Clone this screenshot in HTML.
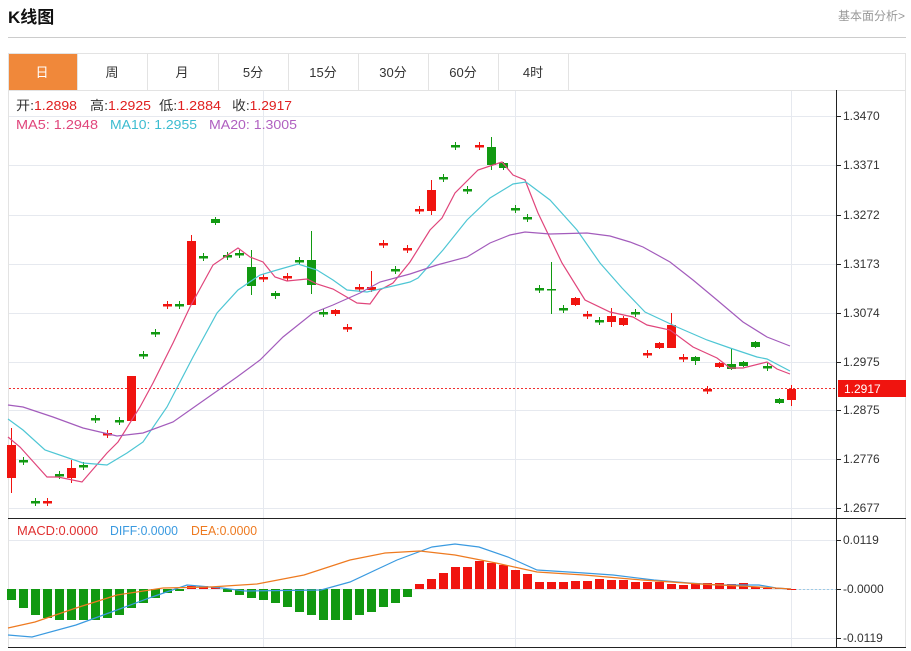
<!DOCTYPE html>
<html><head><meta charset="utf-8"><style>
body{margin:0;width:911px;height:651px;background:#fff;overflow:hidden;font-family:"Liberation Sans","Noto Sans CJK SC",sans-serif;}
svg{position:absolute;left:0;top:0}
</style></head><body>
<svg id="s" width="911" height="651" xmlns="http://www.w3.org/2000/svg" font-family="Liberation Sans, Noto Sans CJK SC, sans-serif">
<text x="8" y="23" font-size="17" font-weight="bold" fill="#111">K线图</text>
<text x="905" y="20" font-size="12" fill="#999" text-anchor="end">基本面分析&gt;</text>
<line x1="8" y1="37.5" x2="906" y2="37.5" stroke="#ccc"/>
<rect x="8.5" y="53.5" width="897" height="594" fill="none" stroke="#e3e3e3"/>
<line x1="8" y1="90.5" x2="906" y2="90.5" stroke="#e3e3e3"/>
<rect x="9" y="54" width="68" height="36" fill="#f0883a"/>
<g stroke="#e3e3e3"><line x1="77.5" y1="54" x2="77.5" y2="90"/><line x1="147.5" y1="54" x2="147.5" y2="90"/><line x1="218.5" y1="54" x2="218.5" y2="90"/><line x1="288.5" y1="54" x2="288.5" y2="90"/><line x1="358.5" y1="54" x2="358.5" y2="90"/><line x1="428.5" y1="54" x2="428.5" y2="90"/><line x1="498.5" y1="54" x2="498.5" y2="90"/><line x1="568.5" y1="54" x2="568.5" y2="90"/></g>
<g font-size="13" text-anchor="middle" fill="#333"><text x="42" y="77" fill="#fff">日</text><text x="112" y="77">周</text><text x="182" y="77">月</text><text x="253" y="77">5分</text><text x="323" y="77">15分</text><text x="393" y="77">30分</text><text x="463" y="77">60分</text><text x="533" y="77">4时</text></g>
<g id="grid" stroke="#e6e9ef"></g>
<g font-size="13" lengthAdjust="spacingAndGlyphs">
<text x="16" y="110" textLength="61" lengthAdjust="spacingAndGlyphs" fill="#333">开:<tspan fill="#e02020">1.2898</tspan></text>
<text x="90" y="110" textLength="61" lengthAdjust="spacingAndGlyphs" fill="#333">高:<tspan fill="#e02020">1.2925</tspan></text>
<text x="159" y="110" textLength="62" lengthAdjust="spacingAndGlyphs" fill="#333">低:<tspan fill="#e02020">1.2884</tspan></text>
<text x="232" y="110" textLength="60" lengthAdjust="spacingAndGlyphs" fill="#333">收:<tspan fill="#e02020">1.2917</tspan></text>
<text x="16" y="129" textLength="82" lengthAdjust="spacingAndGlyphs" fill="#e0457b">MA5: 1.2948</text>
<text x="110" y="129" textLength="87" lengthAdjust="spacingAndGlyphs" fill="#3cbcd0">MA10: 1.2955</text>
<text x="209" y="129" textLength="88" lengthAdjust="spacingAndGlyphs" fill="#b060c0">MA20: 1.3005</text>
<text x="17" y="535" textLength="81" lengthAdjust="spacingAndGlyphs" fill="#e03030">MACD:0.0000</text>
<text x="110" y="535" textLength="68" lengthAdjust="spacingAndGlyphs" fill="#3a9ae0">DIFF:0.0000</text>
<text x="191" y="535" textLength="66" lengthAdjust="spacingAndGlyphs" fill="#ee7a20">DEA:0.0000</text>
</g>
<g id="ax" font-size="12" fill="#333"></g>
<line x1="836.5" y1="90" x2="836.5" y2="648" stroke="#222"/>
<line x1="8" y1="518.5" x2="906" y2="518.5" stroke="#222"/>
<line x1="8" y1="647.5" x2="906" y2="647.5" stroke="#222"/>
<line x1="9" y1="388.5" x2="836" y2="388.5" stroke="#f03030" stroke-dasharray="2,2"/>
<line x1="791" y1="589.5" x2="836" y2="589.5" stroke="#9ccbe6" stroke-dasharray="2,2"/>
<g id="bars"></g>
<g id="c"></g>
<polyline fill="none" stroke="#e0457b" stroke-width="1.2" points="8,437 20,447 47,477 58,477 82,482 107,453 118,442 140,407 153,383 173,343 190,307 213,265 238,248 250,257 263,262 275,277 287,281 307,279 317,284 333,289 357,303 370,304 380,290 393,283 410,262 430,230 442,218 455,193 478,170 502,162 513,175 525,180 538,213 562,263 585,300 610,312 633,317 647,325 670,330 693,347 717,358 730,368 743,368 767,362 777,369 790,374"/>
<polyline fill="none" stroke="#4ec6d4" stroke-width="1.2" points="8,419 23,430 45,450 83,463 107,465 127,453 143,442 167,407 193,357 217,313 238,290 260,275 277,270 298,264 317,270 333,280 347,290 367,292 393,286 410,282 418,278 443,250 467,220 490,198 513,184 526,182 550,200 577,230 600,263 622,288 645,312 677,327 707,340 730,348 757,357 767,359 790,371"/>
<polyline fill="none" stroke="#a35cbc" stroke-width="1.2" points="8,405 23,407 53,417 83,428 117,436 143,433 173,422 200,403 237,377 260,360 283,337 313,313 333,305 360,293 380,282 410,274 437,265 467,257 490,243 510,235 525,232 550,234 587,233 610,236 630,242 643,247 670,262 693,280 717,300 743,322 767,337 790,346"/>
<polyline fill="none" stroke="#3a9ae0" stroke-width="1.2" points="8,635 32,637 76,625 117,610 152,597 187,585 222,588 245,591 321,590 350,582 397,560 432,547 455,544 479,547 508,557 537,570 584,573 613,575 654,580 689,583 718,585 759,585 776,588 791,589"/>
<polyline fill="none" stroke="#ee7a20" stroke-width="1.2" points="8,628 35,622 76,608 117,595 163,588 210,587 257,584 304,575 350,560 385,553 420,551 455,555 496,563 537,572 584,575 642,580 700,584 759,587 791,589"/>
<rect x="838" y="380" width="68" height="17" fill="#f0140f"/>
<text x="844" y="393" font-size="12" fill="#fff">1.2917</text>
</svg>
<script>
var NS="http://www.w3.org/2000/svg";
function el(p,t,a){var e=document.createElementNS(NS,t);for(var k in a)e.setAttribute(k,a[k]);p.appendChild(e);return e;}
var g=document.getElementById('grid'),ax=document.getElementById('ax');
var ticks=[[116,"1.3470"],[165,"1.3371"],[215,"1.3272"],[264,"1.3173"],[313,"1.3074"],[362,"1.2975"],[410,"1.2875"],[459,"1.2776"],[508,"1.2677"],[540,"0.0119"],[589,"-0.0000"],[638,"-0.0119"]];
ticks.forEach(function(t){el(g,'line',{x1:9,x2:836,y1:t[0]+.5,y2:t[0]+.5});el(ax,'line',{x1:836,x2:841,y1:t[0]+.5,y2:t[0]+.5,stroke:'#222'});var tx=el(ax,'text',{x:843,y:t[0]+4});tx.textContent=t[1];});
[263,515,791].forEach(function(x){el(g,'line',{x1:x+.5,x2:x+.5,y1:91,y2:647});});
var R="#f0140f",G="#119911";
var d=[[0,'r',445,478,428,493],[1,'g',461],[2,'g',502],[3,'r',502],[4,'g',475],[5,'r',468,478,460,483],[6,'g',466],[7,'g',419],[8,'r',434],[9,'g',421],[10,'r',376,421,376,421],[11,'g',355],[12,'g',333],[13,'r',305],[14,'g',305],[15,'r',241,305,235,305],[16,'g',257],[17,'g',219,223,217,225],[18,'g',256],[19,'g',254],[20,'g',267,286,250,295],[21,'r',278],[22,'g',293,296,291,299],[23,'r',277],[24,'g',261],[25,'g',260,285,231,294],[26,'g',313],[27,'r',310,314,309,316],[28,'r',328],[29,'r',288],[30,'r',287,290,271,292],[31,'r',244],[32,'g',270],[33,'r',249],[34,'r',210],[35,'r',190,211,180,215],[36,'g',178],[37,'g',146],[38,'g',190],[39,'r',146],[40,'g',147,165,137,170],[41,'g',163,168,162,170],[42,'g',209],[43,'g',218],[44,'g',289],[45,'g',289,290,262,314],[46,'g',309],[47,'r',298,305,297,306],[48,'r',315],[49,'g',321],[50,'r',316,322,308,327],[51,'r',318,325,316,326],[52,'g',313],[53,'r',354],[54,'r',343,348,342,349],[55,'r',325,348,313,348],[56,'r',358],[57,'g',357,361,356,365],[58,'r',390],[59,'r',363,367,362,368],[60,'g',364,369,349,370],[61,'g',362,366,361,367],[62,'g',342,347,341,348],[63,'g',367],[64,'g',399,403,398,404],[65,'r',389,400,385,406]];
var c=document.getElementById('c');
d.forEach(function(a){var x=11+12*a[0],col=a[1]=='r'?R:G;var bt,bb,wt,wb;if(a.length>3){bt=a[2];bb=a[3];wt=a[4];wb=a[5];}else{bt=a[2]-1;bb=a[2]+1.5;wt=a[2]-4;wb=a[2]+4;}
el(c,'line',{x1:x+.5,x2:x+.5,y1:wt,y2:wb,stroke:col});el(c,'rect',{x:x-4,y:bt,width:9,height:Math.max(bb-bt,1.5),fill:col});});
var h=[600,608,615,618,620,620,620,620,618,615,608,603,598,593,591,586,586,587,592,595,598,600,603,607,612,615,620,620,620,615,612,607,603,597,584,579,573,567,567,561,563,565,570,574,582,582,582,581,581,579,580,580,582,582,582,584,585,583,583,583,584,583,587,588,588,589];
var b=document.getElementById('bars');
h.forEach(function(y,i){var x=11+12*i;var col=(i>=15&&i<=17)||i>=34?R:G;var t=Math.min(y,589),hh=Math.abs(y-589);if(hh<1)hh=1;el(b,'rect',{x:x-4,y:t,width:9,height:hh,fill:col});});
</script>
</body></html>
